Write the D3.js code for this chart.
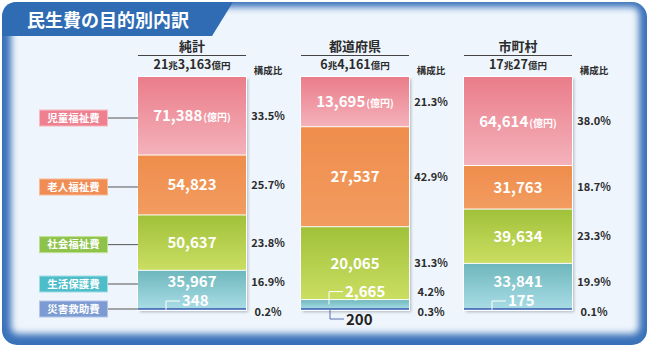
<!DOCTYPE html>
<html><head><meta charset="utf-8">
<script src="https://cdn.jsdelivr.net/npm/d3@7"></script>
<style>
html,body{margin:0;padding:0;background:#fff;}
svg{display:block;}
text{font-family:"Noto Sans CJK JP","Noto Sans",sans-serif;font-weight:700;}
</style></head>
<body>
<svg id="chart" width="649" height="349"></svg>
<script>
// ---- data ----
const title = "民生費の目的別内訳";
const columns = ["純計", "都道府県", "市町村"];
const categories = ["児童福祉費", "老人福祉費", "社会福祉費", "生活保護費", "災害救助費"];
const valuesTotal = [71388, 54823, 50637, 35967, 348];
const valuesPref  = [13695, 27537, 20065, 2665, 200];
const valuesMuni  = [64614, 31763, 39634, 33841, 175];
const sharesTotal = ["33.5%", "25.7%", "23.8%", "16.9%", "0.2%"];
const sharesPref  = ["21.3%", "42.9%", "31.3%", "4.2%", "0.3%"];
const sharesMuni  = ["38.0%", "18.7%", "23.3%", "19.9%", "0.1%"];
const totalCho = ["21", "6", "17"];
const totalOku = ["3,163", "4,161", "27"];
const shareHeader = "構成比";
const unitLabel = "(億円)";

const seriesValues = [valuesTotal, valuesPref, valuesMuni];
const seriesShares = [sharesTotal, sharesPref, sharesMuni];

// ---- styles ----
const segTop = ["#ea7d8a", "#ef8d4c", "#a0c139", "#6db7bc", "#4a6fb6"];
const segBot = ["#f4b2bb", "#f29c60", "#cbde63", "#aadde6", "#6d8ecb"];
const boxCol = ["#ee8090", "#f08d55", "#8dc24b", "#4dbdc9", "#7b9bd2"];
const boxStroke = ["#f7b9c2", "#f7bc96", "#bfe08f", "#a3dde4", "#b3c6e8"];

const svg = d3.select("#chart");
const defs = svg.append("defs");

const fBlur = defs.append("filter").attr("id", "blur").attr("x", "-5%").attr("y", "-5%").attr("width", "110%").attr("height", "110%");
fBlur.append("feGaussianBlur").attr("stdDeviation", 3.5);
const fShadow = defs.append("filter").attr("id", "shadow").attr("x", "-10%").attr("y", "-10%").attr("width", "125%").attr("height", "125%");
fShadow.append("feDropShadow").attr("dx", 2).attr("dy", 2).attr("stdDeviation", 1.5).attr("flood-color", "#7a8088").attr("flood-opacity", 0.55);

segTop.forEach((c, i) => {
  const g = defs.append("linearGradient").attr("id", "seg" + i).attr("x1", 0).attr("x2", 0).attr("y1", 0).attr("y2", 1);
  g.append("stop").attr("offset", "0%").attr("stop-color", c);
  g.append("stop").attr("offset", "100%").attr("stop-color", segBot[i]);
});

// frame
svg.append("rect").attr("x", 2).attr("y", 2).attr("width", 645).attr("height", 343).attr("rx", 15).attr("fill", "#3a72ba");
svg.append("rect").attr("x", 11).attr("y", 7).attr("width", 628).attr("height", 327).attr("rx", 7)
  .attr("fill", "#eef5fc").attr("filter", "url(#blur)");

// title tab
svg.append("path").attr("d", "M2,18 Q2,2 18,2 H233 L212,36 H2 Z").attr("fill", "#2f6cb3");
svg.append("text").attr("x", 27).attr("y", 21).attr("dy", "0.36em").attr("fill", "#fff")
  .attr("font-size", 18).text(title);

// scales
const x = d3.scaleBand().domain(columns).range([138, 572]).paddingInner(0.3374).paddingOuter(0);
const y = d3.scaleLinear().domain([0, 1]).range([310, 77]);
const bw = x.bandwidth();
const B = y(0);

columns.forEach((col, ci) => {
  const vals = seriesValues[ci];
  const sum = d3.sum(vals);
  const x0 = x(col), cx = x0 + bw / 2;
  let acc = 0;
  const segs = vals.map((v, i) => {
    const s = { i, v, share: v / sum, top: acc };
    acc += v / sum;
    s.bot = acc;
    s.yTop = y(1 - s.top);
    s.yBot = y(1 - s.bot);
    return s;
  });

  // header
  svg.append("text").attr("x", cx).attr("y", 46).attr("dy", "0.36em").attr("text-anchor", "middle")
    .attr("font-size", 13).attr("fill", "#2b2b2b").text(col);
  svg.append("line").attr("x1", x0).attr("x2", x0 + bw).attr("y1", 55.5).attr("y2", 55.5)
    .attr("stroke", "#444").attr("stroke-width", 1);
  const tt = svg.append("text").attr("x", cx).attr("y", 64).attr("dy", "0.36em").attr("text-anchor", "middle")
    .attr("fill", "#2b2b2b").attr("font-size", 12.5);
  tt.append("tspan").text(totalCho[ci]);
  tt.append("tspan").attr("font-size", 9.5).text("兆");
  tt.append("tspan").text(totalOku[ci]);
  tt.append("tspan").attr("font-size", 9.5).text("億円");
  svg.append("text").attr("x", x0 + bw + 22).attr("y", 71).attr("dy", "0.36em").attr("text-anchor", "middle")
    .attr("font-size", 9.5).attr("fill", "#2b2b2b").text(shareHeader);

  // bar
  const bar = svg.append("g").attr("filter", "url(#shadow)");
  bar.selectAll("rect.seg").data(segs).join("rect").attr("class", "seg")
    .attr("x", x0).attr("width", bw)
    .attr("y", d => Math.min(d.yTop, d.yBot - 2))
    .attr("height", d => Math.max(d.yBot - d.yTop, 2))
    .attr("fill", d => `url(#seg${d.i})`);
  svg.selectAll(null).data(segs.slice(1).filter(d => d.share > 0.01)).join("line")
    .attr("x1", x0).attr("x2", x0 + bw).attr("y1", d => d.yTop).attr("y2", d => d.yTop)
    .attr("stroke", "#fff").attr("stroke-width", 1);
  svg.append("rect").attr("x", x0 - 0.5).attr("y", y(1) - 0.5).attr("width", bw + 1).attr("height", B - y(1) + 1)
    .attr("fill", "none").attr("stroke", "#fff").attr("stroke-width", 1);

  // label positions
  const small = 0.05;
  segs.forEach((d, i) => {
    const mid = (d.yTop + d.yBot) / 2;
    if (d.share >= small) {
      d.ly = mid;
      d.mode = "in";
    } else if (i > 0 && segs[i - 1].share >= small) {
      d.mode = "up";
      d.ly = Math.min(d.yTop, B - 1) - 8;
      d.lx = cx - 26;
      d.from = Math.min(mid, B);
    } else {
      d.mode = "down";
      d.ly = B + 9;
      d.lx = cx - 25;
      d.from = B;
    }
  });
  segs.forEach((d, i) => {
    const n = segs[i + 1];
    if (d.mode === "in" && n && n.mode === "up") d.ly = Math.min(d.ly, n.ly - 19);
  });

  const fmt = d3.format(",");
  segs.forEach((d, i) => {
    if (d.mode === "in") {
      const t = svg.append("text").attr("x", cx).attr("y", d.ly).attr("dy", "0.36em").attr("text-anchor", "middle")
        .attr("fill", "#fff").attr("font-size", 15).text(fmt(d.v));
      if (i === 0) t.append("tspan").attr("font-size", 10).attr("dx", 1).text(unitLabel);
    } else if (d.mode === "up") {
      svg.append("path").attr("d", `M${d.lx},${d.from}V${d.ly}H${d.lx + 14}`)
        .attr("fill", "none").attr("stroke", "#fff").attr("stroke-width", 1);
      svg.append("text").attr("x", d.lx + 16).attr("y", d.ly).attr("dy", "0.36em").attr("fill", "#fff")
        .attr("font-size", 15).text(fmt(d.v));
    } else {
      svg.append("path").attr("d", `M${d.lx},${d.from}V${d.ly}H${d.lx + 14}`)
        .attr("fill", "none").attr("stroke", "#5a6fb0").attr("stroke-width", 1);
      svg.append("text").attr("x", d.lx + 16).attr("y", d.ly + 1).attr("dy", "0.36em").attr("fill", "#222")
        .attr("font-size", 15).text(fmt(d.v));
    }
    const py = i === segs.length - 1 ? B + 2 : d.ly;
    svg.append("text").attr("x", x0 + bw + 22).attr("y", py).attr("dy", "0.36em").attr("text-anchor", "middle")
      .attr("font-size", 11).attr("fill", "#2b2b2b").text(seriesShares[ci][i]);
  });

  // category labels
  if (ci === 0) {
    segs.forEach((d, i) => {
      const ly = i === segs.length - 1 ? B - 1 : d.ly + 2;
      svg.append("line").attr("x1", 108).attr("x2", x0).attr("y1", ly).attr("y2", ly)
        .attr("stroke", "#555").attr("stroke-width", 1);
      svg.append("rect").attr("x", 39.5).attr("y", ly - 8).attr("width", 68).attr("height", 16)
        .attr("fill", boxCol[i]).attr("stroke", boxStroke[i]).attr("stroke-width", 1);
      svg.append("text").attr("x", 73.5).attr("y", ly).attr("dy", "0.36em").attr("text-anchor", "middle")
        .attr("fill", "#fff").attr("font-size", 10.5).text(categories[i]);
    });
  }
});
</script>
</body></html>
